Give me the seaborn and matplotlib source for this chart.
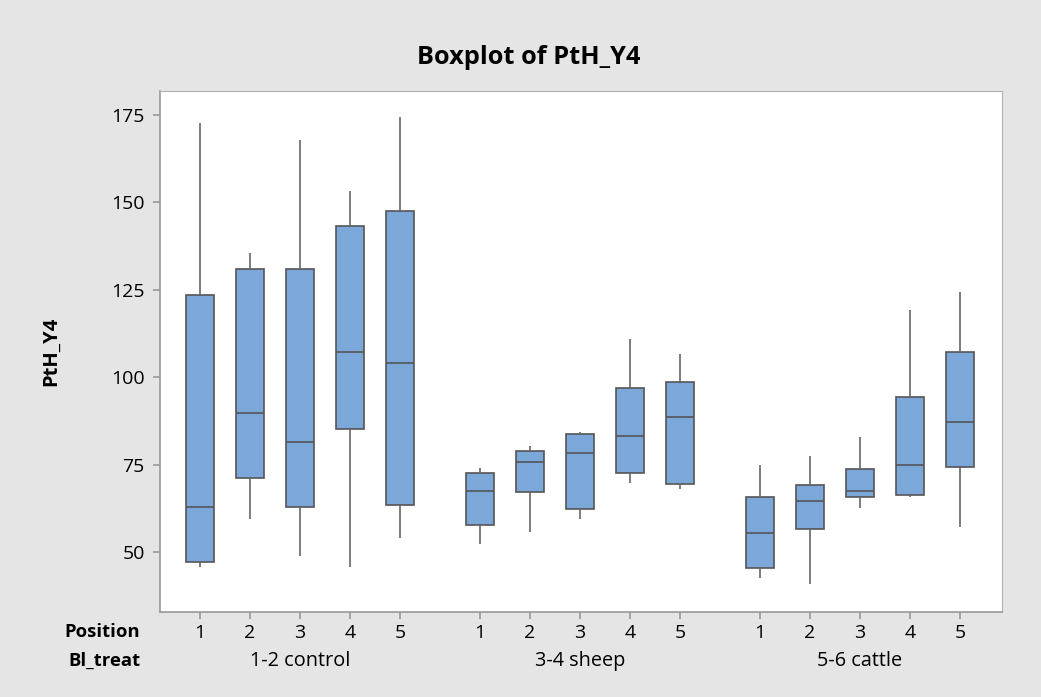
import numpy as np
import pandas as pd
import seaborn as sns
import matplotlib.pyplot as plt
from matplotlib.transforms import blended_transform_factory

treatments = ["1-2 control", "3-4 sheep", "5-6 cattle"]
positions = [1, 2, 3, 4, 5]

# per box: min, Q1, median, Q3, max
control = [
    [45.6, 47.1, 62.9, 123.6, 172.8],
    [59.3, 71.1, 89.8, 131.0, 135.4],
    [48.9, 62.8, 81.5, 131.0, 167.8],
    [45.6, 85.1, 107.1, 143.2, 153.3],
    [53.9, 63.5, 104.2, 147.7, 174.4],
]
sheep = [
    [52.2, 57.8, 67.4, 72.7, 74.1],
    [55.6, 67.0, 75.7, 79.0, 80.4],
    [59.4, 62.3, 78.2, 83.6, 84.4],
    [69.6, 72.7, 83.1, 96.8, 111.0],
    [68.0, 69.5, 88.5, 98.5, 106.5],
]
cattle = [
    [42.6, 45.3, 55.3, 65.8, 75.0],
    [40.7, 56.6, 64.5, 69.0, 77.4],
    [62.6, 65.7, 67.4, 73.6, 82.8],
    [65.6, 66.4, 74.8, 94.4, 119.3],
    [57.2, 74.3, 87.3, 107.2, 124.3],
]
groups = [control, sheep, cattle]

rows = []
for g, boxes in enumerate(groups):
    for p, vals in zip(positions, boxes):
        for v in vals:
            rows.append({"x": g * 5.6 + (p - 1), "PtH_Y4": v})
df = pd.DataFrame(rows)

sns.set_style("white")
plt.rcParams["font.family"] = ["Open Sans", "DejaVu Sans"]
plt.rcParams["text.color"] = "black"

fig = plt.figure(figsize=(10.41, 6.97), dpi=100, facecolor="#e5e5e5")
ax = fig.add_axes([0.1537, 0.122, 0.8088, 0.7474])

sns.boxplot(data=df, x="x", y="PtH_Y4", native_scale=True, whis=(0, 100),
            width=0.56, color="#7ba7d9", saturation=1, linecolor="#555555",
            linewidth=1.2, capprops={"linewidth": 0},
            whiskerprops={"color": "#666666"}, ax=ax)

ax.set_xlim(-0.8, 16.04)
ax.set_ylim(32.8, 181.9)
ax.set_yticks([50, 75, 100, 125, 150, 175])
ticks = [g * 5.6 + (p - 1) for g in range(3) for p in positions]
ax.set_xticks(ticks)
ax.set_xticklabels([str(p) for g in range(3) for p in positions])
ax.tick_params(axis="both", length=5, width=1.2, color="#999999", labelsize=14,
               direction="out", pad=4, labelcolor="black", left=True, bottom=True)
ax.tick_params(axis="y", pad=6)
for s in ["top", "right"]:
    ax.spines[s].set_color("#b0b0b0")
for s in ["left", "bottom"]:
    ax.spines[s].set_color("#999999")
    ax.spines[s].set_linewidth(1.2)
ax.set_xlabel("")
ax.set_ylabel("PtH_Y4", fontsize=14.5, fontweight="bold", labelpad=36,
              color="black")

trans = blended_transform_factory(ax.transData, fig.transFigure)
for g, name in enumerate(treatments):
    ax.text(g * 5.6 + 2, 1 - 661 / 697, name, transform=trans, ha="center",
            va="center", fontsize=14.3)
fig.text(140 / 1041, 1 - 632 / 697, "Position", ha="right", va="center",
         fontsize=13.3, fontweight="bold")
fig.text(140 / 1041, 1 - 661 / 697, "Bl_treat", ha="right", va="center",
         fontsize=13.3, fontweight="bold")

fig.text(529 / 1041, 1 - 57 / 697, "Boxplot of PtH_Y4", ha="center",
         va="center", fontsize=18.3, fontweight="bold")

fig.savefig("out.png", dpi=100, facecolor=fig.get_facecolor())
